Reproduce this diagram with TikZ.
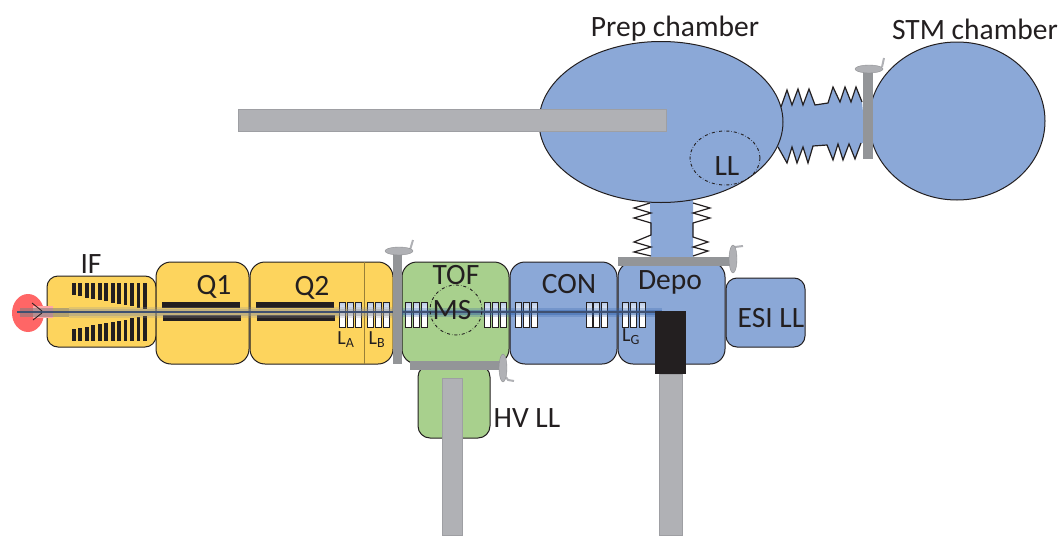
\documentclass[tikz,border=0pt]{standalone}
\usepackage{fontspec}
\setmainfont{Carlito}
\usepackage{xcolor}
\usetikzlibrary{shapes,positioning,calc}
\definecolor{ionyellow}{HTML}{FDD45D}
\definecolor{tofgreen}{HTML}{A8D08D}
\definecolor{uhvblue}{HTML}{8BA8D7}
\definecolor{inkline}{HTML}{231F20}
\definecolor{rodgray}{HTML}{B0B1B5}
\definecolor{gategray}{HTML}{939598}
\definecolor{beamblue}{HTML}{2F5FA8}
\definecolor{beamcore}{HTML}{3F5070}

\begin{document}
\begin{tikzpicture}[
    x=1pt, y=-1pt,
    chamber/.style={rectangle, draw=inkline, line width=1pt, rounded corners=15pt, fill=#1, inner sep=0pt, outer sep=0pt},
    chamber/.default=uhvblue,
    vessel/.style={ellipse, draw=inkline, line width=1pt, fill=uhvblue, inner sep=0pt, outer sep=0pt},
    lbl/.style={font=\fontsize{29.5}{32}\selectfont, text=inkline, inner sep=0pt},
    sublbl/.style={font=\fontsize{20}{22}\selectfont, text=inkline, inner sep=0pt},
    rod/.style={draw=rodgray!90!black, line width=0.8pt, fill=rodgray},
    gate/.style={fill=gategray},
    knob/.style={ellipse, fill=rodgray, draw=rodgray!80!black, line width=0.4pt, inner sep=0pt},
    crank/.style={draw=rodgray, line width=2pt},
    bellows/.style={draw=inkline, line width=1.2pt, line join=miter},
    lens/.style={draw=inkline, line width=1pt, top color=uhvblue!60!white, bottom color=white, middle color=white},
    quad/.style={fill=inkline}
]
    % Necks between the chambers
    \filldraw[uhvblue, bellows, fill=uhvblue, draw=none] (781,107) -- (787,90) -- (792,105) -- (798,89) -- (803,105) -- (809,89) -- (815,105) -- (828,103) -- (833,87) -- (840,102) -- (845,87) -- (851,102) -- (856,87) -- (862,102) -- (866,143) -- (861,143) -- (855,159) -- (849,144) -- (843,160) -- (838,144) -- (833,160) -- (827,145) -- (813,146) -- (808,163) -- (803,147) -- (797,163) -- (792,147) -- (787,163) -- (778,147) -- cycle;
    \fill[uhvblue] (650,200) -- (693,200) -- (693,258) -- (651,258) -- cycle;
    \draw[bellows] (781,107) -- (787,90) -- (792,105) -- (798,89) -- (803,105) -- (809,89) -- (815,105) -- (828,103) -- (833,87) -- (840,102) -- (845,87) -- (851,102) -- (856,87) -- (862,102);
    \draw[bellows] (778,147) -- (787,163) -- (792,147) -- (797,163) -- (803,147) -- (808,163) -- (813,146) -- (827,145) -- (833,160) -- (838,144) -- (843,160) -- (849,144) -- (855,159) -- (861,143);
    \draw[bellows] (650,203) -- (634,208) -- (651,213) -- (634,218) -- (651,223) -- (651,235) -- (634,242) -- (651,247) -- (634,252) -- (651,256);
    \draw[bellows] (693,203) -- (710,208) -- (693,213) -- (710,218) -- (693,223) -- (693,237) -- (708,242) -- (693,247) -- (708,251) -- (693,256);

    % UHV vessels
    \node[vessel, minimum width=244pt, minimum height=161pt] (prep) at (661,122) {};
    \node[vessel, minimum width=176pt, minimum height=158pt] (stm) at (957,121) {};
    \node[lbl] (preplbl) at (675,29) {Prep chamber};
    \node[lbl] (stmlbl) at (975,29) {STM chamber};
    \draw[rod] (238,109) rectangle (666,131);
    \node[ellipse, draw=inkline, dash dot, line width=0.9pt, minimum width=70pt, minimum height=54pt, inner sep=0pt] (llcirc) at (725,158) {};
    \node[lbl] (lllbl) at (727,166) {LL};

    % Source side chambers
    \node[chamber=ionyellow, rounded corners=11pt, minimum width=109pt, minimum height=71pt] (ifguide) at (101.5,311.5) {};
    \node[chamber=ionyellow, minimum width=93pt, minimum height=102pt] (qone) at (202.5,313) {};
    \node[chamber=ionyellow, minimum width=143pt, minimum height=102pt] (qtwo) at (321.5,313) {};
    \draw[draw=ionyellow!60!black, line width=1pt] (qtwo.north -| 364,0) -- (qtwo.south -| 364,0);
    \node[chamber=tofgreen, rounded corners=12pt, minimum width=72pt, minimum height=73pt] (hvll) at (454,401.5) {};
    \node[chamber=tofgreen, minimum width=107pt, minimum height=102pt] (tof) at (455.5,313) {};
    \node[chamber, minimum width=107pt, minimum height=102pt] (con) at (563.5,313) {};
    \node[chamber, minimum width=107pt, minimum height=102pt] (depo) at (671.5,313) {};
    \node[chamber, rounded corners=11pt, minimum width=79pt, minimum height=69pt] (esill) at (765.5,312.5) {};

    % Ion funnel
    \foreach \i in {0,...,11} {
        \fill[inkline] ({72+\i*6.45},283) rectangle ({75.8+\i*6.45},{295+\i*1.27});
        \fill[inkline] ({72+\i*6.45},{329-\i*1.18}) rectangle ({75.8+\i*6.45},341);
    }

    % Quadrupole rods
    \fill[quad] (162,302) rectangle (240,308);
    \fill[quad] (163,315) rectangle (241,321);
    \fill[quad] (256,302) rectangle (334,308);
    \fill[quad] (257,315) rectangle (335,321);

    % Lens stacks
    \foreach \x in {339,347,355,367,375,383,405,413,421,484,492,500,515,523,531,586,593,601,622,630,639} {
        \draw[lens] (\x,302) rectangle ({\x+6},327);
    }

    % Beam
    \fill[red!75!white, fill opacity=0.8] (28,313) ellipse [x radius=16pt, y radius=19pt];
    \fill[red!35!white] (33,306) rectangle (53,318);
    \fill[rodgray!70!black, fill opacity=0.55] (20,308) rectangle (69,317);
    \fill[gategray, fill opacity=0.25] (69,307) rectangle (402,318);
    \fill[gategray, fill opacity=0.4] (69,309) rectangle (402,316);
    \fill[beamblue, fill opacity=0.25] (402,308) rectangle (662,317);
    \fill[beamblue, fill opacity=0.4] (402,310) rectangle (662,315);
    \draw[beamcore, line width=1.4pt] (17,312) -- (660,312);
    \draw[inkline, line width=0.8pt] (32,303) -- (42,311) (33,320) -- (42,313);

    % Gate valves
    \fill[gate] (393,253) rectangle (402,364);
    \draw[crank] (410,250) -- (413,240);
    \node[knob, minimum width=28pt, minimum height=8pt] (gatea) at (399,251) {};
    \fill[gate] (410,361) rectangle (502,370);
    \draw[crank] (506,377) -- (508,380) -- (514,381);
    \node[knob, minimum width=8pt, minimum height=28pt] (gateb) at (503,368) {};
    \fill[gate] (618,257) rectangle (730,266);
    \draw[crank] (733,248) -- (735,247) -- (743,246);
    \node[knob, minimum width=8pt, minimum height=28pt] (gatec) at (733,259) {};
    \fill[gate] (863,70) rectangle (873,159);
    \draw[crank] (882,67) -- (884,58);
    \node[knob, minimum width=28pt, minimum height=8pt] (gated) at (869,69) {};

    % Transfer arms
    \draw[rod] (442,378) rectangle (462,535);
    \draw[rod] (659,374) rectangle (682,535);
    \fill[inkline] (655,311) rectangle (686,374);

    % Labels
    \node[ellipse, draw=inkline, dash dot, line width=0.9pt, minimum width=52pt, minimum height=50pt, inner sep=0pt] (mscirc) at (456,310) {};
    \node[lbl] (iflbl) at (91,264) {IF};
    \node[lbl] (qonelbl) at (214,287) {Q1};
    \node[lbl] (qtwolbl) at (312,288) {Q2};
    \node[lbl] (toflbl) at (456,275) {TOF};
    \node[lbl] (mslbl) at (452,310) {MS};
    \node[lbl] (conlbl) at (569,284) {CON};
    \node[lbl] (depolbl) at (670,282) {Depo};
    \node[lbl] (esilbl) at (771,318) {ESI LL};
    \node[lbl] (hvlbl) at (527,418) {HV LL};
    \node[sublbl] (lalbl) at (346,340) {L\textsubscript{A}};
    \node[sublbl] (lblbl) at (377,340) {L\textsubscript{B}};
    \node[sublbl] (lglbl) at (631,337) {L\textsubscript{G}};

    \useasboundingbox (0,0) rectangle (1063,535);
\end{tikzpicture}
\end{document}
